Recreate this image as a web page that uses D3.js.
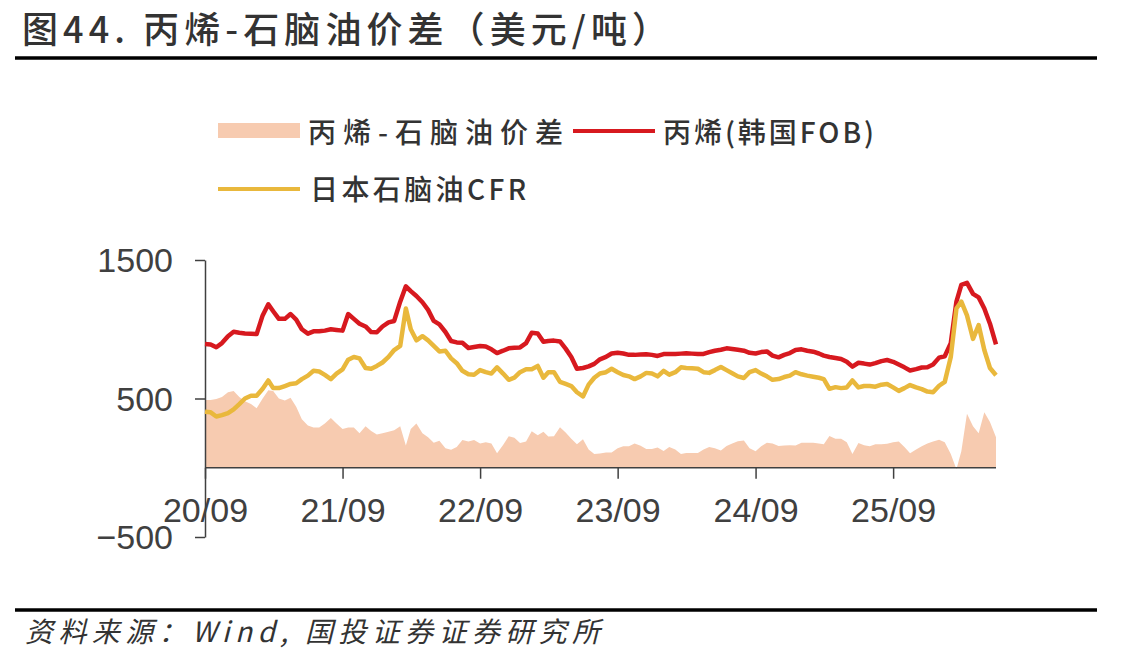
<!DOCTYPE html>
<html>
<head>
<meta charset="utf-8">
<script src="https://cdn.jsdelivr.net/npm/d3@7"></script>
<style>
  body { margin: 0; background: #fff; }
  text { font-family: "Noto Sans CJK SC", "Noto Sans", sans-serif; }
  .tick text { font-family: "Liberation Sans", Arial, sans-serif; font-size: 34px; fill: #404040; }
  .tick line, .domain { stroke: #404040; stroke-width: 1.5; }
</style>
</head>
<body>
<div id="chart"></div>
<script>
// semi-monthly sample dates
const dates = [
  "2020-09-01","2020-09-16","2020-10-01","2020-10-16","2020-11-01","2020-11-16","2020-12-01","2020-12-16",
  "2021-01-01","2021-01-16","2021-02-01","2021-02-16","2021-03-01","2021-03-16","2021-04-01","2021-04-16",
  "2021-05-01","2021-05-16","2021-06-01","2021-06-16","2021-07-01","2021-07-16","2021-08-01","2021-08-16",
  "2021-09-01","2021-09-16","2021-10-01","2021-10-16","2021-11-01","2021-11-16","2021-12-01","2021-12-16",
  "2022-01-01","2022-01-16","2022-02-01","2022-02-16","2022-03-01","2022-03-16","2022-04-01","2022-04-16",
  "2022-05-01","2022-05-16","2022-06-01","2022-06-16","2022-07-01","2022-07-16","2022-08-01","2022-08-16",
  "2022-09-01","2022-09-16","2022-10-01","2022-10-16","2022-11-01","2022-11-16","2022-12-01","2022-12-16",
  "2023-01-01","2023-01-16","2023-02-01","2023-02-16","2023-03-01","2023-03-16","2023-04-01","2023-04-16",
  "2023-05-01","2023-05-16","2023-06-01","2023-06-16","2023-07-01","2023-07-16","2023-08-01","2023-08-16",
  "2023-09-01","2023-09-16","2023-10-01","2023-10-16","2023-11-01","2023-11-16","2023-12-01","2023-12-16",
  "2024-01-01","2024-01-16","2024-02-01","2024-02-16","2024-03-01","2024-03-16","2024-04-01","2024-04-16",
  "2024-05-01","2024-05-16","2024-06-01","2024-06-16","2024-07-01","2024-07-16","2024-08-01","2024-08-16",
  "2024-09-01","2024-09-16","2024-10-01","2024-10-16","2024-11-01","2024-11-16","2024-12-01","2024-12-16",
  "2025-01-01","2025-01-16","2025-02-01","2025-02-16","2025-03-01","2025-03-16","2025-04-01","2025-04-16",
  "2025-05-01","2025-05-16","2025-06-01","2025-06-16","2025-07-01","2025-07-16","2025-08-01","2025-08-16",
  "2025-09-01","2025-09-16","2025-10-01","2025-10-16","2025-11-01","2025-11-16","2025-12-01","2025-12-16",
  "2026-01-01","2026-01-16","2026-02-01","2026-02-16","2026-03-01","2026-03-16","2026-04-01","2026-04-16",
  "2026-05-01","2026-05-16","2026-06-01"
];

// 丙烯(韩国FOB)
const propylene = [
  893, 890, 870, 900, 950, 982, 975, 970,
  968, 965, 1100, 1180, 1130, 1075, 1075, 1110,
  1070, 1000, 968, 985, 985, 990, 1000, 995,
  990, 1110, 1075, 1040, 1020, 980, 978, 1020,
  1050, 1060, 1199, 1310, 1275, 1240, 1195, 1140,
  1060, 1035, 980, 915, 905, 903, 865, 872,
  879, 875, 855, 828, 845, 862, 866, 869,
  900, 975, 970, 910, 915, 918, 912, 860,
  800, 715, 720, 732, 750, 783, 800, 825,
  831, 825, 815, 815, 818, 820, 815, 807,
  821, 821, 822, 824, 826, 824, 822, 822,
  835, 845, 852, 862, 858, 852, 845, 830,
  825, 835, 840, 810, 797, 815, 828, 850,
  855, 845, 838, 825, 810, 800, 792, 785,
  765, 730, 758, 752, 745, 755, 770, 778,
  765, 745, 725, 702, 712, 724, 725, 745,
  795, 805, 900, 1200, 1320, 1335, 1255, 1230,
  1150, 1040, 890
];

// 日本石脑油CFR
const naphtha = [
  405, 400, 370, 380, 395, 422, 460, 500,
  520, 520, 570, 630, 575, 575, 590, 605,
  610, 640, 665, 700, 695, 670, 640, 680,
  710, 780, 800, 790, 720, 715, 735, 760,
  800, 850, 880, 1150, 1000, 920, 950, 920,
  880, 840, 845, 790, 755, 700, 675, 672,
  705, 690, 680, 725, 680, 635, 650, 690,
  711, 712, 735, 650, 690, 690, 620, 605,
  590, 545, 515, 600, 650, 681, 690, 715,
  690, 670, 660, 640, 660, 685, 680, 660,
  700, 672, 690, 725, 720, 718, 715, 690,
  685, 705, 728, 705, 683, 660, 648, 690,
  705, 680, 660, 635, 640, 655, 665, 690,
  675, 665, 657, 650, 640, 570, 582, 575,
  580, 630, 580, 590, 590, 585, 600, 605,
  580, 555, 575, 597, 580, 568, 550, 545,
  592, 620, 800, 1150, 1200, 1100, 930, 1030,
  850, 720, 668
];

// 丙烯-石脑油价差
const spread = [
  489, 490, 496, 510, 545, 555, 510, 480,
  460, 430, 500, 560, 555, 500, 485, 505,
  440, 350, 305, 290, 290, 320, 360, 320,
  280, 290, 290, 250, 300, 265, 240, 250,
  260, 270, 300, 160, 280, 320, 250, 220,
  180, 195, 140, 130, 150, 200, 190, 200,
  175, 185, 175, 105, 165, 227, 216, 179,
  189, 263, 235, 260, 225, 228, 292, 255,
  210, 170, 205, 132, 100, 102, 110, 110,
  141, 155, 155, 175, 158, 135, 135, 147,
  121, 149, 132, 100, 106, 106, 107, 132,
  150, 140, 124, 157, 175, 192, 197, 140,
  120, 155, 180, 175, 157, 160, 163, 160,
  180, 180, 181, 175, 170, 230, 210, 210,
  185, 100, 178, 162, 155, 170, 170, 173,
  185, 190, 150, 105, 132, 156, 175, 190,
  203, 185, 100, -10, 120, 390, 300, 250,
  400, 330, 220
];

const xTicks = ["2020-09-01","2021-09-01","2022-09-01","2023-09-01","2024-09-01","2025-09-01"];
const yTicks = [-500, 500, 1500];

const width = 1147, height = 663;
const red = "#d7191f", yellow = "#e9b83c", salmon = "#f7cbb0", ink = "#333";

const parse = d3.timeParse("%Y-%m-%d");
const data = dates.map((d, i) => ({
  date: parse(d), propylene: propylene[i], naphtha: naphtha[i], spread: spread[i]
}));

const svg = d3.select("#chart").append("svg")
  .attr("width", width).attr("height", height)
  .style("background", "#fff");

const xScale = d3.scaleTime()
  .domain([parse("2020-09-01"), parse("2026-06-01")])
  .range([205, 996]);
const yScale = d3.scaleLinear()
  .domain([-500, 1500])
  .range([537, 260]);

// title + rules
svg.append("text")
  .text("图44. 丙烯-石脑油价差（美元/吨）")
  .attr("x", 22).attr("y", 43)
  .attr("font-size", 36).attr("font-weight", 500)
  .attr("fill", ink)
  .attr("textLength", 646).attr("lengthAdjust", "spacing");
svg.append("line").attr("x1", 15).attr("x2", 1097).attr("y1", 58).attr("y2", 58)
  .attr("stroke", "#000").attr("stroke-width", 3.5);
svg.append("line").attr("x1", 15).attr("x2", 1097).attr("y1", 610).attr("y2", 610)
  .attr("stroke", "#000").attr("stroke-width", 3.5);
svg.append("text")
  .text("资料来源：Wind, 国投证券证券研究所")
  .attr("x", 25).attr("y", 642)
  .attr("font-size", 28).attr("font-style", "italic")
  .attr("fill", ink)
  .attr("textLength", 575).attr("lengthAdjust", "spacing");

// legend
const legend = svg.append("g").attr("font-size", 28).attr("font-weight", 500).attr("fill", ink);
legend.append("rect").attr("x", 218).attr("y", 123).attr("width", 82).attr("height", 15).attr("fill", salmon);
legend.append("text").text("丙烯-石脑油价差").attr("x", 308).attr("y", 143)
  .attr("textLength", 255).attr("lengthAdjust", "spacing");
legend.append("line").attr("x1", 573).attr("x2", 655).attr("y1", 131).attr("y2", 131)
  .attr("stroke", red).attr("stroke-width", 4);
legend.append("text").text("丙烯(韩国FOB)").attr("x", 663).attr("y", 143)
  .attr("textLength", 211).attr("lengthAdjust", "spacing");
legend.append("line").attr("x1", 218).attr("x2", 300).attr("y1", 189).attr("y2", 189)
  .attr("stroke", yellow).attr("stroke-width", 4);
legend.append("text").text("日本石脑油CFR").attr("x", 310).attr("y", 200)
  .attr("textLength", 216).attr("lengthAdjust", "spacing");

// spread area
const area = d3.area()
  .x(d => xScale(d.date))
  .y0(yScale(0))
  .y1(d => yScale(d.spread));
svg.append("path").datum(data).attr("d", area).attr("fill", salmon);

// axes
const bottomAxis = d3.axisBottom(xScale)
  .tickValues(xTicks.map(parse))
  .tickFormat(d3.timeFormat("%y/%m"))
  .tickSize(11).tickSizeOuter(0);
const xAxisG = svg.append("g")
  .attr("transform", `translate(0, ${yScale(0)})`)
  .call(bottomAxis);
xAxisG.select(".domain").attr("d", `M${xScale.range()[0]},0H${xScale.range()[1]}`);
xAxisG.selectAll(".tick text").attr("y", 54).attr("dy", 0);

const leftAxis = d3.axisLeft(yScale)
  .tickValues(yTicks)
  .tickFormat(d3.format("d"))
  .tickSize(10).tickSizeOuter(0).tickPadding(22);
const yAxisG = svg.append("g")
  .attr("transform", "translate(205, 0)")
  .call(leftAxis);
yAxisG.selectAll(".tick text").attr("dy", "0.35em");
svg.selectAll(".domain").attr("fill", "none");

// lines
const line = key => d3.line().x(d => xScale(d.date)).y(d => yScale(d[key]));
svg.append("path").datum(data).attr("d", line("propylene"))
  .attr("fill", "none").attr("stroke", red).attr("stroke-width", 4.5).attr("stroke-linejoin", "round");
svg.append("path").datum(data).attr("d", line("naphtha"))
  .attr("fill", "none").attr("stroke", yellow).attr("stroke-width", 4.5).attr("stroke-linejoin", "round");
</script>
</body>
</html>
